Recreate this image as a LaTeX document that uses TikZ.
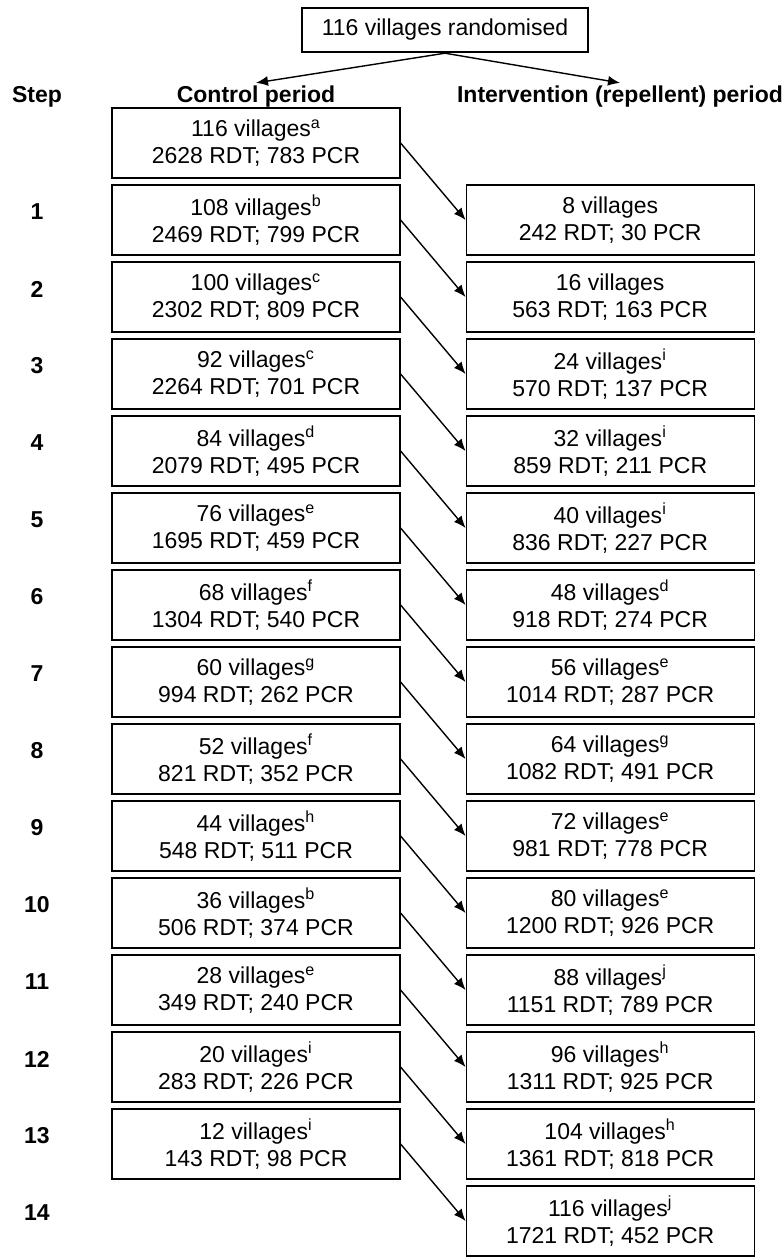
\documentclass[tikz,border=0pt]{standalone}
\usepackage{fontspec}
\setmainfont{Liberation Sans}
\usetikzlibrary{positioning,arrows.meta}

\begin{document}
\begin{tikzpicture}[x=0.5pt, y=-0.5pt, node distance=2.9pt and 32.5pt,
  every node/.style={font=\fontsize{11.5}{13.5}\selectfont},
  cell/.style={draw, line width=0.6pt, minimum width=144pt, minimum height=35pt, align=center, inner sep=2pt},
  head/.style={font=\fontsize{11.5}{13.5}\selectfont\bfseries, inner sep=1.5pt},
  arr/.style={->, line width=0.7pt},
  >={Latex[length=6pt,width=5pt]}]
  \useasboundingbox (0,0) rectangle (783,1258);
  \node[draw, line width=1.2pt, minimum width=143pt, minimum height=22pt] (rand) at (445,30) {116 villages randomised};
  \node[head] (stephd) at (37,97) {Step};
  \node[head] (ctrlhd) at (256,97) {Control period};
  \node[head] (inthd) at (620,97) {Intervention (repellent) period};
  \draw[arr] (rand.south) -- (ctrlhd.north);
  \draw[arr] (rand.south) -- (inthd.north);

  % control period
  \node[cell] (c0) at (256,143) {116 villages\textsuperscript{a}\\2628 RDT; 783 PCR};
  \node[cell, below=of c0] (c1) {108 villages\textsuperscript{b}\\2469 RDT; 799 PCR};
  \node[cell, below=of c1] (c2) {100 villages\textsuperscript{c}\\2302 RDT; 809 PCR};
  \node[cell, below=of c2] (c3) {92 villages\textsuperscript{c}\\2264 RDT; 701 PCR};
  \node[cell, below=of c3] (c4) {84 villages\textsuperscript{d}\\2079 RDT; 495 PCR};
  \node[cell, below=of c4] (c5) {76 villages\textsuperscript{e}\\1695 RDT; 459 PCR};
  \node[cell, below=of c5] (c6) {68 villages\textsuperscript{f}\\1304 RDT; 540 PCR};
  \node[cell, below=of c6] (c7) {60 villages\textsuperscript{g}\\994 RDT; 262 PCR};
  \node[cell, below=of c7] (c8) {52 villages\textsuperscript{f}\\821 RDT; 352 PCR};
  \node[cell, below=of c8] (c9) {44 villages\textsuperscript{h}\\548 RDT; 511 PCR};
  \node[cell, below=of c9] (c10) {36 villages\textsuperscript{b}\\506 RDT; 374 PCR};
  \node[cell, below=of c10] (c11) {28 villages\textsuperscript{e}\\349 RDT; 240 PCR};
  \node[cell, below=of c11] (c12) {20 villages\textsuperscript{i}\\283 RDT; 226 PCR};
  \node[cell, below=of c12] (c13) {12 villages\textsuperscript{i}\\143 RDT; 98 PCR};

  % intervention period
  \node[cell, right=of c1] (i1) {8 villages\\242 RDT; 30 PCR};
  \node[cell, right=of c2] (i2) {16 villages\\563 RDT; 163 PCR};
  \node[cell, right=of c3] (i3) {24 villages\textsuperscript{i}\\570 RDT; 137 PCR};
  \node[cell, right=of c4] (i4) {32 villages\textsuperscript{i}\\859 RDT; 211 PCR};
  \node[cell, right=of c5] (i5) {40 villages\textsuperscript{i}\\836 RDT; 227 PCR};
  \node[cell, right=of c6] (i6) {48 villages\textsuperscript{d}\\918 RDT; 274 PCR};
  \node[cell, right=of c7] (i7) {56 villages\textsuperscript{e}\\1014 RDT; 287 PCR};
  \node[cell, right=of c8] (i8) {64 villages\textsuperscript{g}\\1082 RDT; 491 PCR};
  \node[cell, right=of c9] (i9) {72 villages\textsuperscript{e}\\981 RDT; 778 PCR};
  \node[cell, right=of c10] (i10) {80 villages\textsuperscript{e}\\1200 RDT; 926 PCR};
  \node[cell, right=of c11] (i11) {88 villages\textsuperscript{j}\\1151 RDT; 789 PCR};
  \node[cell, right=of c12] (i12) {96 villages\textsuperscript{h}\\1311 RDT; 925 PCR};
  \node[cell, right=of c13] (i13) {104 villages\textsuperscript{h}\\1361 RDT; 818 PCR};
  \node[cell, below=of i13] (i14) {116 villages\textsuperscript{j}\\1721 RDT; 452 PCR};

  % step numbers
  \node[head] (s1) at ([yshift=4pt]stephd |- c1) {1};
  \node[head] (s2) at ([yshift=4pt]stephd |- c2) {2};
  \node[head] (s3) at ([yshift=4pt]stephd |- c3) {3};
  \node[head] (s4) at ([yshift=4pt]stephd |- c4) {4};
  \node[head] (s5) at ([yshift=4pt]stephd |- c5) {5};
  \node[head] (s6) at ([yshift=4pt]stephd |- c6) {6};
  \node[head] (s7) at ([yshift=4pt]stephd |- c7) {7};
  \node[head] (s8) at ([yshift=4pt]stephd |- c8) {8};
  \node[head] (s9) at ([yshift=4pt]stephd |- c9) {9};
  \node[head] (s10) at ([yshift=4pt]stephd |- c10) {10};
  \node[head] (s11) at ([yshift=4pt]stephd |- c11) {11};
  \node[head] (s12) at ([yshift=4pt]stephd |- c12) {12};
  \node[head] (s13) at ([yshift=4pt]stephd |- c13) {13};
  \node[head] (s14) at ([yshift=4pt]stephd |- i14) {14};

  \draw[arr] (c0.east) -- (i1.west); \draw[arr] (c1.east) -- (i2.west);
  \draw[arr] (c2.east) -- (i3.west); \draw[arr] (c3.east) -- (i4.west);
  \draw[arr] (c4.east) -- (i5.west); \draw[arr] (c5.east) -- (i6.west);
  \draw[arr] (c6.east) -- (i7.west); \draw[arr] (c7.east) -- (i8.west);
  \draw[arr] (c8.east) -- (i9.west); \draw[arr] (c9.east) -- (i10.west);
  \draw[arr] (c10.east) -- (i11.west); \draw[arr] (c11.east) -- (i12.west);
  \draw[arr] (c12.east) -- (i13.west); \draw[arr] (c13.east) -- (i14.west);
\end{tikzpicture}
\end{document}
